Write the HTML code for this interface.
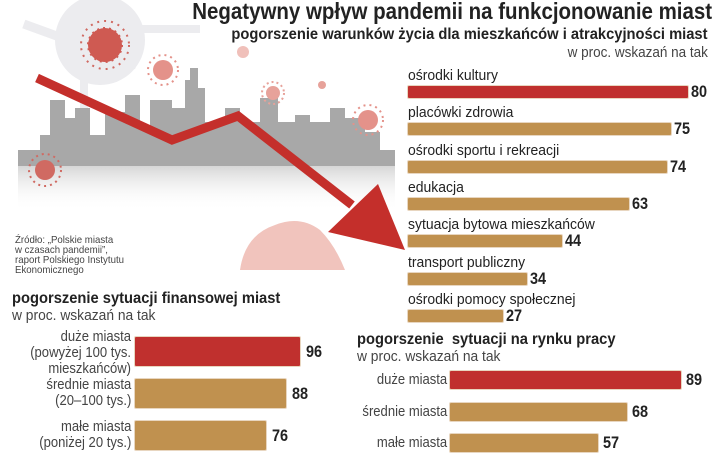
<!DOCTYPE html>
<html><head><meta charset="utf-8">
<style>
body{margin:0;width:720px;height:466px;overflow:hidden;background:#fff;font-family:"Liberation Sans Narrow","Liberation Sans",sans-serif;color:#222;position:relative}
.abs{position:absolute;white-space:nowrap}
.cr{transform:scaleX(0.9);transform-origin:right top}
.cl{transform:scaleX(0.92);transform-origin:left top}
</style></head><body>
<svg class="abs" style="left:0;top:0" width="720" height="466">
<defs><linearGradient id="refl" x1="0" y1="0" x2="0" y2="1"><stop offset="0" stop-color="#ccc" stop-opacity=".8"/><stop offset="1" stop-color="#fff" stop-opacity="0"/></linearGradient></defs>
<g fill="#ececef">
<circle cx="100" cy="40" r="45"/><rect x="20" y="40" width="120" height="9" transform="rotate(20 80 45)"/><rect x="130" y="25" width="70" height="8"/><rect x="80" y="70" width="8" height="40"/>
</g>
<g fill="#a8a8a8">
<path d="M18,166 L18,150 L40,150 L40,135 L50,135 L50,100 L65,100 L65,118 L75,118 L75,108 L90,108 L90,135 L105,135 L105,112 L125,112 L125,95 L140,95 L140,128 L150,128 L150,100 L172,100 L172,108 L185,108 L185,80 L190,80 L190,68 L198,68 L198,88 L205,88 L205,122 L225,122 L225,108 L240,108 L240,122 L260,122 L260,98 L278,98 L278,122 L295,122 L295,115 L310,115 L310,122 L330,122 L330,108 L345,108 L345,118 L365,118 L365,132 L380,132 L380,150 L395,150 L395,166 Z"/>
</g>
<rect x="18" y="166" width="377" height="45" fill="url(#refl)"/>
<g>
<circle cx="105" cy="45" r="17" fill="#cf5a52" stroke="#cf5a52" stroke-width="2" stroke-dasharray="2 4"/><circle cx="105" cy="45" r="24" fill="none" stroke="#d06a62" stroke-width="2" stroke-dasharray="2 5"/>
<circle cx="163" cy="70" r="10" fill="#e4928a"/><circle cx="163" cy="70" r="15" fill="none" stroke="#e4928a" stroke-width="2" stroke-dasharray="2 4"/>
<circle cx="45" cy="170" r="10" fill="#d06a62"/><circle cx="45" cy="170" r="16" fill="none" stroke="#d06a62" stroke-width="2" stroke-dasharray="2 4"/>
<circle cx="273" cy="93" r="7" fill="#e7a29a"/><circle cx="273" cy="93" r="11" fill="none" stroke="#e7a29a" stroke-width="2" stroke-dasharray="2 3"/>
<circle cx="322" cy="85" r="4" fill="#e7a29a"/>
<circle cx="368" cy="120" r="10" fill="#e4928a"/><circle cx="368" cy="120" r="15" fill="none" stroke="#e4928a" stroke-width="2" stroke-dasharray="2 4"/>
<circle cx="243" cy="52" r="6" fill="#f0c0ba"/>
<path d="M240,270 Q245,235 275,225 Q300,215 320,230 Q335,245 345,270 Z" fill="#f1c4bd"/>
</g>
<g>
<polyline points="37,78 172,140 238,116 352,205" fill="none" stroke="#c42f2b" stroke-width="9"/>
<polygon points="328,232 378,184 405,250" fill="#c42f2b"/>
</g>
</svg>

<div class="abs" style="right:8px;top:-2px;font-size:23px;font-weight:bold;transform:scaleX(0.89);transform-origin:right top">Negatywny wpływ pandemii na funkcjonowanie miast</div>
<div class="abs" style="right:12px;top:26px;font-size:16px;font-weight:bold;transform:scaleX(0.92);transform-origin:right top">pogorszenie warunków życia dla mieszkańców i atrakcyjności miast</div>
<div class="abs cr" style="right:12px;top:44px;font-size:15px;color:#444">w proc. wskazań na tak</div>
<div class="abs cl" style="left:15px;top:235px;font-size:10.5px;line-height:10px;color:#444">Źródło: „Polskie miasta<br>w czasach pandemii”,<br>raport Polskiego Instytutu<br>Ekonomicznego</div>

<div class="abs cl" style="left:12px;top:290px;font-size:16px;font-weight:bold">pogorszenie sytuacji finansowej miast</div>
<div class="abs cl" style="left:12px;top:307px;font-size:15px;color:#444">w proc. wskazań na tak</div>
<div class="abs cl" style="left:357px;top:331px;font-size:16px;font-weight:bold">pogorszenie&nbsp; sytuacji na rynku pracy</div>
<div class="abs cl" style="left:357px;top:348px;font-size:15px;color:#444">w proc. wskazań na tak</div>

<div id="charts"></div>
<script>
const topCats=["ośrodki kultury","placówki zdrowia","ośrodki sportu i rekreacji","edukacja","sytuacja bytowa mieszkańców","transport publiczny","ośrodki pomocy społecznej"];
const topVals=[80,75,74,63,44,34,27];
const finCats=[["duże miasta","(powyżej 100 tys.","mieszkańców)"],["średnie miasta","(20–100 tys.)"],["małe miasta","(poniżej 20 tys.)"]];
const finVals=[96,88,76];
const jobCats=["duże miasta","średnie miasta","małe miasta"];
const jobVals=[89,68,57];
const RED="#c0302e",TAN="#c0914f";
const root=document.getElementById('charts');
function div(css,text){const d=document.createElement('div');d.className='abs';d.style.cssText=css;if(text!==undefined)d.textContent=text;root.appendChild(d);return d;}
function bar(x,y,w,h,color){return div(`left:${x}px;top:${y}px;width:${w}px;height:${h}px;background:${color};box-shadow:0 0 0 1px #e8d6c0;border-radius:1px`);}
const valCss='font-size:17px;font-weight:bold;transform:scaleX(0.85);transform-origin:left top';
// top chart
const tx=v=>v*3.5, tY=i=>86+i*37.3;
topCats.forEach((c,i)=>{
 const l=div(`left:408px;top:${tY(i)-19}px;font-size:15px;transform:scaleX(0.93);transform-origin:left top`,c);
 
 
 const b=bar(408,tY(i),tx(topVals[i]),12,i===0?RED:TAN);
 
 
 const v=div(`left:${408+tx(topVals[i])+3}px;top:${tY(i)-4}px;${valCss}`,topVals[i]);
 
 
});
// finance chart
const fx=v=>v*1.72, fY=i=>337+i*42;
finCats.forEach((c,i)=>{
 const l=div(`right:${720-131}px;top:${fY(i)-(c.length===3?8:2)}px;font-size:14.5px;line-height:16px;text-align:right;color:#444;transform:scaleX(0.9);transform-origin:right top`);
 l.innerHTML=c.join('<br>');
 
 
 const b=bar(135,fY(i),fx(finVals[i]),29,i===0?RED:TAN);
 
 
 const v=div(`left:${135+fx(finVals[i])+6}px;top:${fY(i)+5}px;${valCss}`,finVals[i]);
 
 
});
// job chart
const jx=v=>v*2.6, jY=i=>371+i*31.5;
jobCats.forEach((c,i)=>{
 const l=div(`right:${720-447}px;top:${jY(i)+1}px;font-size:14.5px;color:#444;transform:scaleX(0.9);transform-origin:right top`,c);
 
 
 const b=bar(450,jY(i),jx(jobVals[i]),18,i===0?RED:TAN);
 
 
 const v=div(`left:${450+jx(jobVals[i])+5}px;top:${jY(i)-1}px;${valCss}`,jobVals[i]);
 
 
});
</script>
</body></html>
